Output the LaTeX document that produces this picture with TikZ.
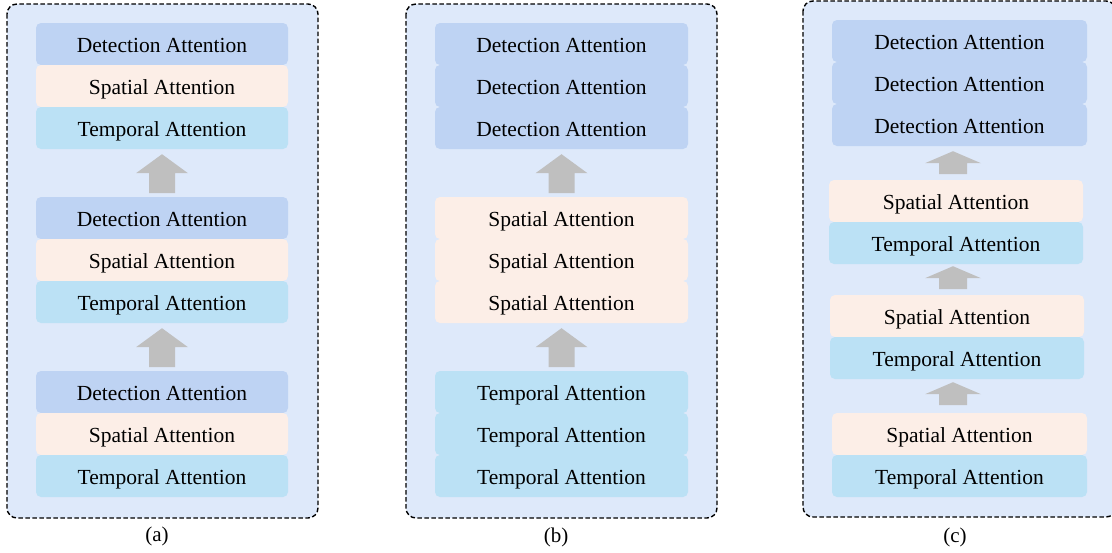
\documentclass[tikz,border=0pt]{standalone}
\usepackage{fontspec}
\setmainfont{Liberation Serif}
\usetikzlibrary{calc}

\definecolor{panelbg}{RGB}{222,233,250}
\definecolor{detcol}{RGB}{190,211,243}
\definecolor{spacol}{RGB}{252,238,231}
\definecolor{temcol}{RGB}{187,225,245}
\definecolor{arrowgray}{RGB}{191,191,191}

\tikzset{
  panel/.style={fill=panelbg, draw=black, line width=1.4pt,
    dash pattern=on 4.5pt off 2.5pt, rounded corners=10pt},
  layer/.style={minimum height=42pt, inner sep=0pt, rounded corners=5pt,
    text height=17pt, text depth=1pt,
    font=\fontsize{21.5}{24}\selectfont},
  det/.style={layer, fill=detcol},
  spa/.style={layer, fill=spacol},
  tem/.style={layer, fill=temcol},
  caption/.style={font=\fontsize{21}{24}\selectfont},
  bigup/.pic={\fill[arrowgray] (0,0) -- (26,19) -- (13,19) -- (13,39)
      -- (-13,39) -- (-13,19) -- (-26,19) -- cycle;},
  smallup/.pic={\fill[arrowgray] (0,0) -- (28,12) -- (14,12) -- (14,23)
      -- (-14,23) -- (-14,12) -- (-28,12) -- cycle;},
}

\begin{document}
\begin{tikzpicture}[x=1pt, y=-1pt]
\useasboundingbox (0,0) rectangle (1112,552);

% ---------- (a) interleaved blocks ----------
\path[panel] (7,4) rectangle (318,518);
\begin{scope}[every node/.append style={minimum width=252pt}]
  \node[det] (a1) at (162,44)  {Detection Attention};
  \node[spa] (a2) at (162,86)  {Spatial Attention};
  \node[tem] (a3) at (162,128) {Temporal Attention};
  \node[det] (a4) at (162,218) {Detection Attention};
  \node[spa] (a5) at (162,260) {Spatial Attention};
  \node[tem] (a6) at (162,302) {Temporal Attention};
  \node[det] (a7) at (162,392) {Detection Attention};
  \node[spa] (a8) at (162,434) {Spatial Attention};
  \node[tem] (a9) at (162,476) {Temporal Attention};
\end{scope}
\path ($(a3.south)+(0,5)$) pic {bigup};
\path ($(a6.south)+(0,5)$) pic {bigup};
\node[caption] (capa) at (157,536) {(a)};

% ---------- (b) grouped blocks ----------
\path[panel] (406,4) rectangle (717,518);
\begin{scope}[every node/.append style={minimum width=253pt}]
  \node[det] (b1) at (561.5,44)  {Detection Attention};
  \node[det] (b2) at (561.5,86)  {Detection Attention};
  \node[det] (b3) at (561.5,128) {Detection Attention};
  \node[spa] (b4) at (561.5,218) {Spatial Attention};
  \node[spa] (b5) at (561.5,260) {Spatial Attention};
  \node[spa] (b6) at (561.5,302) {Spatial Attention};
  \node[tem] (b7) at (561.5,392) {Temporal Attention};
  \node[tem] (b8) at (561.5,434) {Temporal Attention};
  \node[tem] (b9) at (561.5,476) {Temporal Attention};
\end{scope}
\path ($(b3.south)+(0,5)$) pic {bigup};
\path ($(b6.south)+(0,5)$) pic {bigup};
\node[caption] (capb) at (556,537) {(b)};

% ---------- (c) repeated spatio-temporal blocks, then detection ----------
\path[panel] (803,1) rectangle (1116,517);
\begin{scope}[every node/.append style={minimum width=255pt}]
  \node[det] (c1) at (959.5,41)  {Detection Attention};
  \node[det] (c2) at (959.5,83)  {Detection Attention};
  \node[det] (c3) at (959.5,125) {Detection Attention};
\end{scope}
\begin{scope}[every node/.append style={minimum width=254pt}]
  \node[spa] (c4) at (956,201) {Spatial Attention};
  \node[tem] (c5) at (956,243) {Temporal Attention};
  \node[spa] (c6) at (957,316) {Spatial Attention};
  \node[tem] (c7) at (957,358) {Temporal Attention};
\end{scope}
\begin{scope}[every node/.append style={minimum width=255pt}]
  \node[spa] (c8) at (959.5,434) {Spatial Attention};
  \node[tem] (c9) at (959.5,476) {Temporal Attention};
\end{scope}
\path ($(c3.south)+(-6.5,5)$) pic {smallup};
\path ($(c5.south)+(-3,2)$) pic {smallup};
\path ($(c7.south)+(-4,3)$) pic {smallup};
\node[caption] (capc) at (955,537) {(c)};

\end{tikzpicture}
\end{document}
